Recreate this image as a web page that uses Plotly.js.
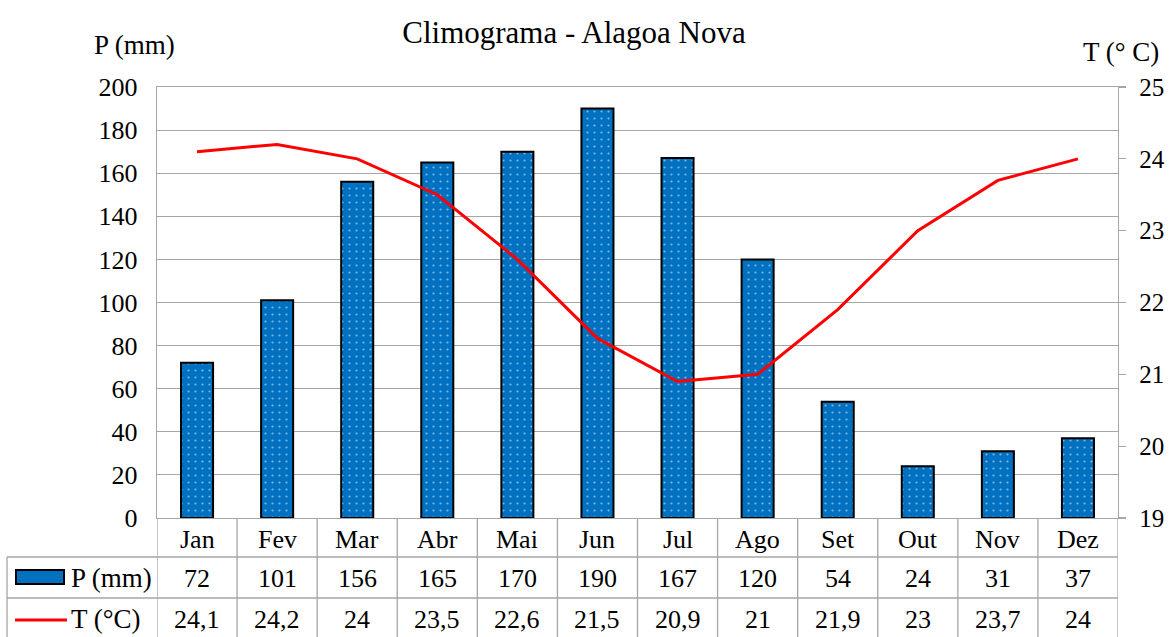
<!DOCTYPE html>
<html>
<head>
<meta charset="utf-8">
<script src="https://cdn.plot.ly/plotly-3.0.1.min.js"></script>
<style>html,body{margin:0;padding:0;background:#fff;}#chart{width:1169px;height:637px;}</style>
</head>
<body>
<div id="chart"></div>
<script>
var months = ["Jan","Fev","Mar","Abr","Mai","Jun","Jul","Ago","Set","Out","Nov","Dez"];
var precip = [72,101,156,165,170,190,167,120,54,24,31,37];
var temp = [24.1,24.2,24,23.5,22.6,21.5,20.9,21,21.9,23,23.7,24];
var precipLabel = "P (mm)";
var tempLabel = "T (°C)";

var FONT = "Liberation Serif";
var BLUE = "#0070c0";
var GRID = "#a6a6a6";

var PT = 87, PB = 518, PL = 157, PR = 1118;
function py(pix){ return (PB - pix) / (PB - PT); }
function px(pix){ return (pix - PL) / (PR - PL); }

var traces = [
  {
    type: "bar", x: months, y: precip, name: precipLabel, width: 0.4,
    marker: {color: BLUE, line: {color: "#000", width: 2},
             pattern: {shape: ".", fillmode: "overlay", fgcolor: "#ffffff", size: 7, solidity: 0.08}},
    hoverinfo: "skip"
  },
  {
    type: "scatter", mode: "lines", x: months, y: temp, name: tempLabel, yaxis: "y2",
    line: {color: "#ff0000", width: 3}, hoverinfo: "skip"
  }
];

var shapes = [];
var annotations = [];
var lineStyle = {color: GRID, width: 1.3};
for (var k = 0; k <= months.length; k++) {
  shapes.push({type: "line", xref: "x", yref: "paper", x0: k - 0.5, x1: k - 0.5, y0: py(518), y1: py(640), line: lineStyle});
}
shapes.push({type: "line", xref: "paper", yref: "paper", x0: px(7), x1: px(7), y0: py(557), y1: py(640), line: lineStyle});
shapes.push({type: "line", xref: "paper", yref: "paper", x0: px(7), x1: 1, y0: py(557), y1: py(557), line: lineStyle});
shapes.push({type: "line", xref: "paper", yref: "paper", x0: px(7), x1: 1, y0: py(598), y1: py(598), line: lineStyle});
shapes.push({type: "rect", xref: "paper", yref: "paper", x0: px(16), x1: px(64), y0: py(584), y1: py(570),
             fillcolor: BLUE, line: {color: "#000", width: 2}});
shapes.push({type: "line", xref: "paper", yref: "paper", x0: px(15), x1: px(67), y0: py(620), y1: py(620),
             line: {color: "#ff0000", width: 3}});

var tfont = {family: FONT, size: 26, color: "#000"};
var rfont = {family: FONT, size: 25, color: "#000"};
var afont = {family: FONT, size: 27, color: "#000"};
for (var i = 0; i < months.length; i++) {
  annotations.push({xref: "x", yref: "paper", x: months[i], y: py(539), text: months[i], showarrow: false, font: tfont, xanchor: "center", yanchor: "middle"});
  annotations.push({xref: "x", yref: "paper", x: months[i], y: py(578), text: String(precip[i]), showarrow: false, font: tfont, xanchor: "center", yanchor: "middle"});
  annotations.push({xref: "x", yref: "paper", x: months[i], y: py(619), text: String(temp[i]).replace(".", ","), showarrow: false, font: tfont, xanchor: "center", yanchor: "middle"});
}
annotations.push({xref: "paper", yref: "paper", x: px(69), y: py(578), text: precipLabel, showarrow: false, font: afont, xanchor: "left", yanchor: "middle"});
annotations.push({xref: "paper", yref: "paper", x: px(69), y: py(619), text: tempLabel, showarrow: false, font: afont, xanchor: "left", yanchor: "middle"});
annotations.push({xref: "paper", yref: "paper", x: px(134), y: py(45), text: "P (mm)", showarrow: false, font: afont, xanchor: "center", yanchor: "middle"});
annotations.push({xref: "paper", yref: "paper", x: px(1121), y: py(52), text: "T (° C)", showarrow: false, font: afont, xanchor: "center", yanchor: "middle"});

var layout = {
  width: 1169, height: 637,
  margin: {l: 157, r: 51, t: 87, b: 119, pad: 0},
  paper_bgcolor: "#fff", plot_bgcolor: "#fff",
  showlegend: false,
  font: {family: FONT},
  title: {text: "Climograma - Alagoa Nova", font: {family: FONT, size: 31, color: "#000"},
          x: 574 / 1169, xref: "container", xanchor: "center", y: 1 - 32 / 637, yref: "container", yanchor: "middle"},
  bargap: 0.6,
  xaxis: {type: "category", range: [-0.5, 11.5], showticklabels: false, ticks: "", showgrid: false,
          showline: true, linecolor: GRID, linewidth: 1.3, mirror: true, zeroline: false, fixedrange: true},
  yaxis: {range: [0, 200], dtick: 20, tick0: 0, showgrid: true, gridcolor: GRID, gridwidth: 1,
          showline: true, linecolor: GRID, linewidth: 1.3, mirror: true, zeroline: false, ticks: "",
          ticklabelstandoff: 13, tickfont: tfont, fixedrange: true},
  yaxis2: {range: [19, 25], dtick: 1, tick0: 19, overlaying: "y", side: "right", showgrid: false,
           showline: true, linecolor: GRID, linewidth: 1.3, zeroline: false, ticks: "outside", ticklen: 7,
           tickcolor: GRID, tickwidth: 1.3, ticklabelstandoff: 8, tickfont: rfont, fixedrange: true},
  shapes: shapes,
  annotations: annotations
};

Plotly.newPlot("chart", traces, layout, {displayModeBar: false, staticPlot: true});
</script>
</body>
</html>
